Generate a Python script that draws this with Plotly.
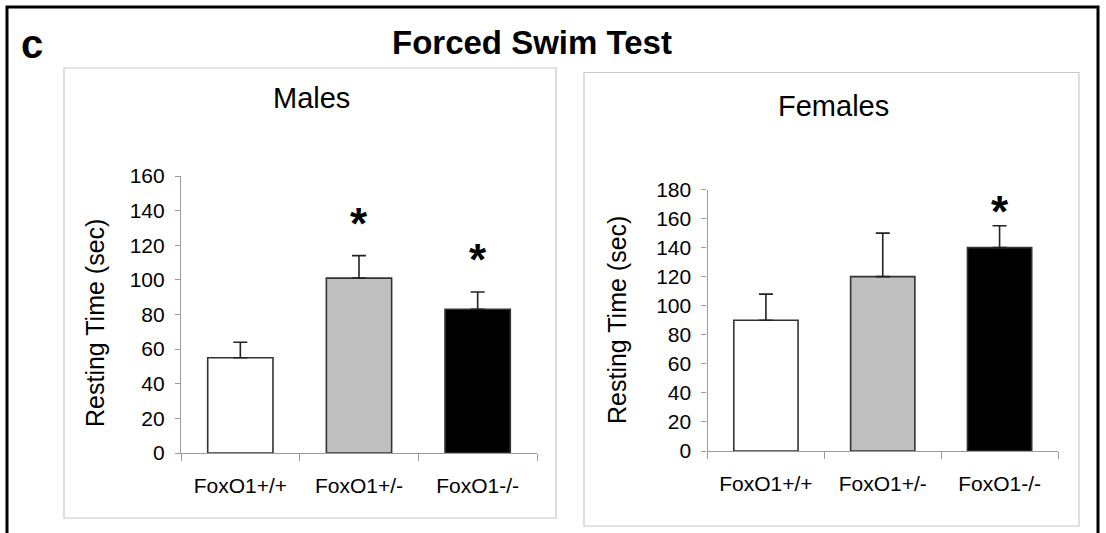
import plotly.graph_objects as go

# Genotype groups and measurements (resting time in seconds, mean and upper SEM)
genotypes = ["FoxO1+/+", "FoxO1+/-", "FoxO1-/-"]
bar_colors = ["#ffffff", "#c0c0c0", "#000000"]

males_mean = [55, 101, 83]
males_sem = [9, 13, 10]
males_sig = [False, True, True]

females_mean = [90, 120, 140]
females_sem = [18, 30, 15]
females_sig = [False, False, True]

W, H = 1106, 533
FONT = "Liberation Sans, Arial, sans-serif"


def px_x(p):
    return p / W


def px_y(p):
    return 1 - p / H


fig = go.Figure()

panels = [
    dict(mean=males_mean, sem=males_sem, sig=males_sig, xa="x", ya="y",
         star_shift=32),
    dict(mean=females_mean, sem=females_sem, sig=females_sig, xa="x2", ya="y2",
         star_shift=14),
]

annotations = []
for p in panels:
    fig.add_trace(go.Bar(
        x=genotypes, y=p["mean"], xaxis=p["xa"], yaxis=p["ya"],
        width=0.55,
        marker=dict(color=bar_colors, line=dict(color="#333333", width=1.6)),
        error_y=dict(type="data", array=p["sem"], arrayminus=[0] * 3,
                     symmetric=False, color="#222222", thickness=1.6, width=7),
        showlegend=False, hoverinfo="skip",
    ))
    for g, m, s, flag in zip(genotypes, p["mean"], p["sem"], p["sig"]):
        if flag:
            annotations.append(dict(
                x=g, y=m + s, xref=p["xa"], yref=p["ya"], text="<b>*</b>",
                showarrow=False, yanchor="middle", yshift=p["star_shift"],
                font=dict(family=FONT, size=44, color="#000000"),
            ))

axis_common = dict(
    showline=True, linecolor="#9a9a9a", linewidth=1.2, automargin=False,
    ticks="outside", tickcolor="#9a9a9a", showgrid=False, zeroline=False,
    tickfont=dict(family=FONT, size=21, color="#000000"),
)

fig.update_layout(
    width=W, height=H,
    margin=dict(l=0, r=0, t=0, b=0, pad=0, autoexpand=False),
    paper_bgcolor="#ffffff", plot_bgcolor="#ffffff",
    xaxis=dict(domain=[px_x(181), px_x(537)], anchor="y", type="category",
               range=[-0.5, 2.5], tickson="boundaries", ticklen=7,
               ticklabelstandoff=14, **axis_common),
    yaxis=dict(domain=[px_y(453), px_y(176)], anchor="x", range=[0, 160],
               tickvals=list(range(0, 161, 20)), ticklen=5,
               ticklabelstandoff=6, **axis_common),
    xaxis2=dict(domain=[px_x(707.5), px_x(1058)], anchor="y2", type="category",
                range=[-0.5, 2.5], tickson="boundaries", ticklen=7,
                ticklabelstandoff=14, **axis_common),
    yaxis2=dict(domain=[px_y(451), px_y(189.5)], anchor="x2", range=[0, 180],
                tickvals=list(range(0, 181, 20)), ticklen=5,
                ticklabelstandoff=6, **axis_common),
)

# Panel frames and outer border
shapes = [
    dict(type="rect", xref="paper", yref="paper",
         x0=px_x(7), x1=px_x(1098), y0=px_y(560), y1=px_y(7),
         line=dict(color="#000000", width=3), layer="below"),
    dict(type="rect", xref="paper", yref="paper",
         x0=px_x(64), x1=px_x(556), y0=px_y(518), y1=px_y(68),
         line=dict(color="#c8c8c8", width=1.2), layer="below"),
    dict(type="rect", xref="paper", yref="paper",
         x0=px_x(584), x1=px_x(1079), y0=px_y(526), y1=px_y(72.5),
         line=dict(color="#c8c8c8", width=1.2), layer="below"),
]

texts = [
    dict(x=px_x(532), y=px_y(42), text="<b>Forced Swim Test</b>", size=33),
    dict(x=px_x(32), y=px_y(44), text="<b>c</b>", size=40),
    dict(x=px_x(311), y=px_y(98), text="Males", size=29),
    dict(x=px_x(833), y=px_y(106), text="Females", size=29),
]
for t in texts:
    annotations.append(dict(
        x=t["x"], y=t["y"], xref="paper", yref="paper", text=t["text"],
        showarrow=False, xanchor="center", yanchor="middle",
        font=dict(family=FONT, size=t["size"], color="#000000"),
    ))

for xc, yc in [(95, 323), (617, 320)]:
    annotations.append(dict(
        x=px_x(xc), y=px_y(yc), xref="paper", yref="paper",
        text="Resting Time (sec)", textangle=-90, showarrow=False,
        xanchor="center", yanchor="middle",
        font=dict(family=FONT, size=25, color="#000000"),
    ))

fig.update_layout(shapes=shapes, annotations=annotations)

fig.write_html("out.html")
